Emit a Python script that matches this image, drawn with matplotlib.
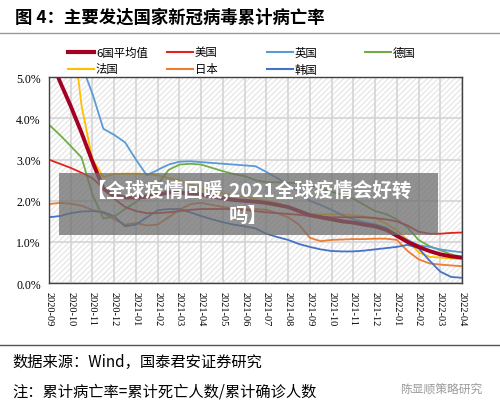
import numpy as np
import matplotlib.pyplot as plt
from matplotlib.patches import Rectangle

plt.rcParams['font.family'] = ['Noto Sans CJK SC', 'DejaVu Sans']

# 横轴月份标签
months = ["2020-09", "2020-10", "2020-11", "2020-12", "2021-01", "2021-02",
          "2021-03", "2021-04", "2021-05", "2021-06", "2021-07", "2021-08",
          "2021-09", "2021-10", "2021-11", "2021-12", "2022-01", "2022-02",
          "2022-03", "2022-04"]

# 每半个月一个点（单位：%）
avg6 = [5.55, 4.9, 4.3, 3.65, 2.95, 2.3, 2.12, 2.08, 2.08, 2.1, 2.15, 2.2, 2.2,
        2.18, 2.15, 2.1, 2.06, 2.02, 2.0, 1.98, 1.95, 1.9, 1.85, 1.75, 1.65,
        1.6, 1.55, 1.5, 1.47, 1.42, 1.38, 1.3, 1.15, 1.0, 0.88, 0.78, 0.7,
        0.65, 0.62]
usa = [3.0, 2.9, 2.8, 2.68, 2.55, 2.3, 2.05, 1.85, 1.75, 1.7, 1.7, 1.72, 1.75,
       1.78, 1.8, 1.8, 1.8, 1.8, 1.78, 1.75, 1.72, 1.7, 1.68, 1.66, 1.63,
       1.62, 1.6, 1.6, 1.6, 1.6, 1.58, 1.55, 1.5, 1.4, 1.25, 1.2, 1.2, 1.22,
       1.23]
uk = [9.0, 7.5, 6.2, 5.3, 4.6, 3.75, 3.6, 3.42, 3.0, 2.62, 2.75, 2.88, 2.95,
      2.96, 2.94, 2.92, 2.9, 2.88, 2.86, 2.84, 2.7, 2.55, 2.4, 2.22, 2.0,
      1.9, 1.78, 1.65, 1.55, 1.48, 1.43, 1.35, 1.18, 1.05, 0.92, 0.88, 0.82,
      0.78, 0.75]
germany = [3.85, 3.6, 3.33, 3.05, 2.15, 1.57, 1.62, 1.8, 1.97, 2.18, 2.4,
           2.75, 2.88, 2.9, 2.88, 2.8, 2.72, 2.65, 2.6, 2.5, 2.45, 2.45, 2.44,
           2.42, 2.38, 2.3, 2.22, 2.15, 2.05, 1.9, 1.75, 1.68, 1.55, 1.35,
           1.05, 0.9, 0.8, 0.7, 0.63]
france = [12.0, 9.0, 6.5, 4.3, 3.0, 2.58, 2.65, 2.66, 2.66, 2.65, 2.62, 2.55,
          2.5, 2.4, 2.3, 2.22, 2.18, 2.13, 2.1, 2.05, 2.0, 1.95, 1.85, 1.75,
          1.68, 1.67, 1.67, 1.67, 1.65, 1.62, 1.58, 1.45, 1.28, 1.05, 0.75,
          0.64, 0.62, 0.6, 0.58]
japan = [1.92, 1.95, 1.93, 1.88, 1.78, 1.7, 1.55, 1.42, 1.46, 1.4, 1.42, 1.6,
         1.78, 1.92, 1.95, 1.9, 1.85, 1.82, 1.8, 1.8, 1.78, 1.7, 1.6, 1.42,
         1.1, 1.02, 1.05, 1.06, 1.07, 1.07, 1.08, 1.08, 1.05, 0.78, 0.58,
         0.48, 0.45, 0.43, 0.41]
korea = [1.6, 1.63, 1.7, 1.74, 1.75, 1.73, 1.62, 1.38, 1.42, 1.6, 1.77, 1.8,
         1.8, 1.72, 1.63, 1.55, 1.48, 1.42, 1.38, 1.33, 1.2, 1.12, 1.05, 0.95,
         0.88, 0.82, 0.78, 0.77, 0.77, 0.79, 0.82, 0.85, 0.88, 0.93, 0.85,
         0.55, 0.28, 0.15, 0.13]

x = np.arange(len(avg6)) / 2.0

fig = plt.figure(figsize=(5, 4.1), dpi=100)
ax = fig.add_axes([0.098, 0.307, 0.826, 0.502])

# 斜线底纹
ax.add_patch(Rectangle((0, 0), 1, 1, transform=ax.transAxes, facecolor="white",
                       edgecolor="#e8e8e8", hatch="//////", lw=0, zorder=0))

series = [
    ("法国", france, "#FFC000", 1.3),
    ("日本", japan, "#ED7D31", 1.3),
    ("韩国", korea, "#4472C4", 1.3),
    ("德国", germany, "#70AD47", 1.3),
    ("英国", uk, "#5B9BD5", 1.3),
    ("美国", usa, "#E2231A", 1.3),
    ("6国平均值", avg6, "#A50021", 2.8),
]
for name, vals, c, lw in series:
    ax.plot(x, vals, color=c, lw=lw)

ax.set_xlim(0, 19)
ax.set_ylim(0, 5)
ax.set_xticks(range(len(months)))
ax.set_xticklabels(months, rotation=-90, family=["Liberation Serif"], fontsize=7.5)
ax.set_yticks([0, 1, 2, 3, 4, 5])
ax.set_yticklabels([f"{v:.1f}%" for v in range(6)], family=["Liberation Serif"],
                   fontsize=8.5)
ax.tick_params(length=0, pad=6)
ax.grid(True, color="#d4d4d4", lw=1.2)
ax.set_axisbelow(True)
for s in ax.spines.values():
    s.set_color("#404040")
    s.set_linewidth(1.0)

# 图例（手动排布，四列等距）
legend_items = [("6国平均值", "#A50021", 3.0), ("美国", "#E2231A", 1.5),
                ("英国", "#5B9BD5", 1.5), ("德国", "#70AD47", 1.5),
                ("法国", "#FFC000", 1.5), ("日本", "#ED7D31", 1.5),
                ("韩国", "#4472C4", 1.5)]
col_x = [68, 167, 267, 365]
row_y = [53, 70]
for i, (name, c, lw) in enumerate(legend_items):
    x0 = col_x[i % 4] / 500
    y0 = 1 - row_y[i // 4] / 410
    fig.add_artist(plt.Line2D([x0, x0 + 26 / 500], [y0, y0], color=c, lw=lw))
    fig.text(x0 + 28 / 500, y0, name, fontsize=8.2, va="center", ha="left")

# 标题与分隔线
fig.text(0.03, 0.958, "图 4：主要发达国家新冠病毒累计病亡率", fontsize=12.5,
         fontweight="bold", va="center", ha="left")
fig.add_artist(plt.Line2D([0, 1], [0.917, 0.917], color="#999999", lw=1.0))
fig.add_artist(plt.Line2D([0, 1], [0.156, 0.156], color="#555555", lw=1.0))

fig.text(0.025, 0.117, "数据来源：Wind，国泰君安证券研究", fontsize=11, va="center",
         family=["Noto Sans CJK SC", "Liberation Serif"])
fig.text(0.025, 0.043, "注：累计病亡率=累计死亡人数/累计确诊人数", fontsize=11,
         va="center")
fig.text(0.80, 0.05, "陈显顺策略研究", fontsize=8.5, color="#9a9a9a", va="center")

# 灰色横幅
fig.patches.append(Rectangle((0.118, 1 - 236 / 410), 0.758, 62 / 410,
                             transform=fig.transFigure, facecolor="#6e6e6e",
                             alpha=0.75, lw=0, zorder=5))
fig.text(0.497, 1 - 190 / 410, "【全球疫情回暖,2021全球疫情会好转", fontsize=14,
         fontweight="bold", color="white", ha="center", va="center", zorder=6)
fig.text(0.497, 1 - 216 / 410, "吗】", fontsize=14, fontweight="bold",
         color="white", ha="center", va="center", zorder=6)

fig.savefig("out.png", dpi=100)
